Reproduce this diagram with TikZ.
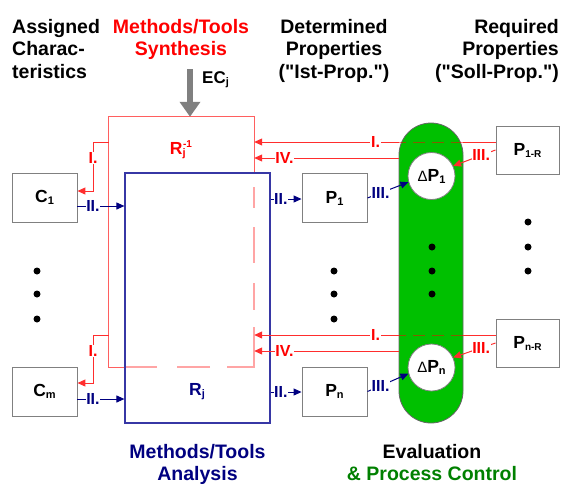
\documentclass[tikz,border=0pt]{standalone}
\usepackage{fontspec}
\setmainfont{Liberation Sans}[Ligatures=TeXOff]
\usetikzlibrary{arrows.meta}
\definecolor{redln}{RGB}{255,45,45}
\definecolor{redbx}{RGB}{255,95,95}
\definecolor{redlt}{RGB}{255,165,165}
\definecolor{redtx}{RGB}{255,0,0}
\definecolor{blubx}{RGB}{55,55,165}
\definecolor{navyc}{RGB}{0,0,128}
\definecolor{grayb}{RGB}{128,128,128}
\definecolor{pillg}{RGB}{0,192,0}
\definecolor{greentx}{RGB}{0,128,0}
\newcommand\lsub[2][11]{\raisebox{-2pt}{\fontsize{#1}{#1}\selectfont #2}}
\newcommand\dP[1]{{\mdseries\fontsize{15}{15}\selectfont Δ}P\lsub{#1}}
\begin{document}
\begin{tikzpicture}[x=1pt,y=-1pt,
  hdr/.style={inner sep=0pt, font=\fontsize{19.5}{22.5}\selectfont\bfseries},
  gbox/.style={draw=grayb, line width=0.9pt, fill=white, minimum width=65pt, minimum height=49pt, inner sep=0pt, font=\fontsize{17.5}{17.5}\selectfont\bfseries},
  rbox/.style={gbox, minimum width=63pt, minimum height=48pt},
  dcirc/.style={circle, draw=grayb, line width=0.8pt, fill=white, minimum size=47pt, inner sep=0pt, font=\fontsize{17.5}{17.5}\selectfont\bfseries},
  bigbox/.style={minimum width=145pt, minimum height=250pt, inner sep=0pt},
  rcon/.style={draw=redln, line width=1pt},
  bcon/.style={draw=navyc, line width=1pt},
  tipr/.style={-{Triangle[length=8pt,width=7pt]}},
  rlab/.style={fill=white, inner sep=0.6pt, text=redtx, font=\fontsize{16}{16}\selectfont\bfseries},
  blab/.style={fill=white, inner sep=0.6pt, text=navyc, font=\fontsize{16}{16}\selectfont\bfseries},
  overpill/.style={draw=redtx, opacity=0.5, line width=1pt, dash pattern=on 12pt off 7pt},
  boxlab/.style={inner sep=0pt, font=\fontsize{17.5}{17.5}\selectfont\bfseries}
]
\useasboundingbox (0,0) rectangle (561,485);

% level coordinates
\coordinate (yA1) at (0,142); \coordinate (yB1) at (0,158);
\coordinate (yC1) at (0,191); \coordinate (yD1) at (0,206); \coordinate (yE1) at (0,199);
\coordinate (yA2) at (0,335); \coordinate (yB2) at (0,351);
\coordinate (yC2) at (0,383); \coordinate (yD2) at (0,399); \coordinate (yE2) at (0,392);
\coordinate (xk) at (93,0);

% headers
\node[hdr, anchor=north west, align=left] (hAss) at (12,19) {Assigned\\Charac-\\teristics};
\node[hdr, anchor=north, align=center, text=redtx] (hSyn) at (181,19) {Methods/Tools\\Synthesis};
\node[hdr, anchor=north, align=center] (hDet) at (334,19) {Determined\\Properties\\("Ist-Prop.")};
\node[hdr, anchor=north east, align=right] (hReq) at (559,19) {Required\\Properties\\("Soll-Prop.")};
\node[hdr, anchor=north, align=center, text=navyc] (hAna) at (197.5,444) {Methods/Tools\\Analysis};
\node[hdr, anchor=north, align=center] (hEva) at (432,444) {Evaluation\\\textcolor{greentx}{\& Process Control}};

% synthesis (red) and analysis (blue) boxes
\node[bigbox] (syn) at (181.5,242) {};
\node[bigbox, draw=blubx, line width=1.2pt] (ana) at (197.5,298) {};
\draw[draw=redbx, line width=1.2pt] (ana.west |- syn.south) -- (syn.south west) -- (syn.north west) -- (syn.north east) -- (syn.east |- ana.north);
\draw[draw=redlt, line width=1.2pt] (254,187) -- (254,208) (254,227) -- (254,263) (254,283) -- (254,310)
  (254,327) -- (254,367) -- (227,367) (210,367) -- (177,367) (157,367) -- (125.6,367);
\node[boxlab, text=redtx] (synlab) at (181,150) {R\rlap{\lsub{j}}\raisebox{7pt}{\fontsize{10}{10}\selectfont\kern0.5pt -1}};
\node[boxlab, text=navyc] (analab) at (197,392) {R\lsub{j}};

% EC arrow
\coordinate (ectop) at (190,69);
\draw[draw=grayb, line width=5.5pt, -{Triangle[length=15pt,width=20pt]}] (ectop) -- (ectop |- syn.north);
\node[boxlab, anchor=base west, font=\fontsize{17}{17}\selectfont\bfseries] (eclab) at (202,83) {EC\lsub{j}};

% evaluation pill
\node[draw=grayb!80!black, line width=0.8pt, fill=pillg, rounded corners=32pt, minimum width=64pt, minimum height=300pt, inner sep=0pt] (pill) at (431,273) {};
\node[dcirc] (d1) at (431.5,176) {\dP{1}};
\node[dcirc] (dn) at (431.5,367.5) {\dP{n}};

% boxes
\node[gbox] (C1) at (44.5,197.5) {C\lsub{1}};
\node[gbox] (Cm) at (44.5,391.5) {C\lsub{m}};
\node[gbox] (P1) at (334.5,198) {P\lsub{1}};
\node[gbox] (Pn) at (334.5,391.5) {P\lsub{n}};
\node[rbox] (P1R) at (527.5,150) {P\lsub[10]{1-R}};
\node[rbox] (PnR) at (527.5,343) {P\lsub[10]{n-R}};

% dots
\foreach \yy in {271,294,319} {\fill (37,\yy) circle[radius=3.5pt]; \fill (334,\yy) circle[radius=3.5pt];}
\foreach \yy in {247,271,294} {\fill (432,\yy) circle[radius=3.5pt];}
\foreach \yy in {222,247,271} {\fill (528,\yy) circle[radius=3.5pt];}

% connectors, upper group
\draw[rcon] (P1R.west |- yA1) -- (pill.east |- yA1);
\draw[overpill] (pill.east |- yA1) -- (pill.west |- yA1);
\draw[rcon, tipr] (pill.west |- yA1) -- node[rlab, pos=0.16]{I.} (syn.east |- yA1);
\draw[rcon, tipr] (pill.west |- yB1) -- node[rlab, pos=0.79]{IV.} (syn.east |- yB1);
\draw[rcon, tipr] (syn.west |- yA1) -- (xk |- yA1) -- node[rlab, pos=0.33]{I.} (xk |- yC1) -- (C1.east |- yC1);
\draw[bcon, tipr] (C1.east |- yD1) -- node[blab, pos=0.33]{II.} (ana.west |- yD1);
\draw[bcon, tipr] (ana.east |- yE1) -- node[blab, pos=0.33]{II.} (P1.west |- yE1);
\draw[bcon, tipr] (P1.east) -- node[blab, pos=0.32]{III.} (d1.195);
\draw[rcon, tipr] (P1R.west) -- node[rlab, pos=0.34]{III.} (d1.25);

% connectors, lower group
\draw[rcon] (PnR.west |- yA2) -- (pill.east |- yA2);
\draw[overpill] (pill.east |- yA2) -- (pill.west |- yA2);
\draw[rcon, tipr] (pill.west |- yA2) -- node[rlab, pos=0.16]{I.} (syn.east |- yA2);
\draw[rcon, tipr] (pill.west |- yB2) -- node[rlab, pos=0.79]{IV.} (syn.east |- yB2);
\draw[rcon, tipr] (syn.west |- yA2) -- (xk |- yA2) -- node[rlab, pos=0.33]{I.} (xk |- yC2) -- (Cm.east |- yC2);
\draw[bcon, tipr] (Cm.east |- yD2) -- node[blab, pos=0.33]{II.} (ana.west |- yD2);
\draw[bcon, tipr] (ana.east |- yE2) -- node[blab, pos=0.33]{II.} (Pn.west |- yE2);
\draw[bcon, tipr] (Pn.east) -- node[blab, pos=0.32]{III.} (dn.195);
\draw[rcon, tipr] (PnR.west) -- node[rlab, pos=0.34]{III.} (dn.25);
\end{tikzpicture}
\end{document}
